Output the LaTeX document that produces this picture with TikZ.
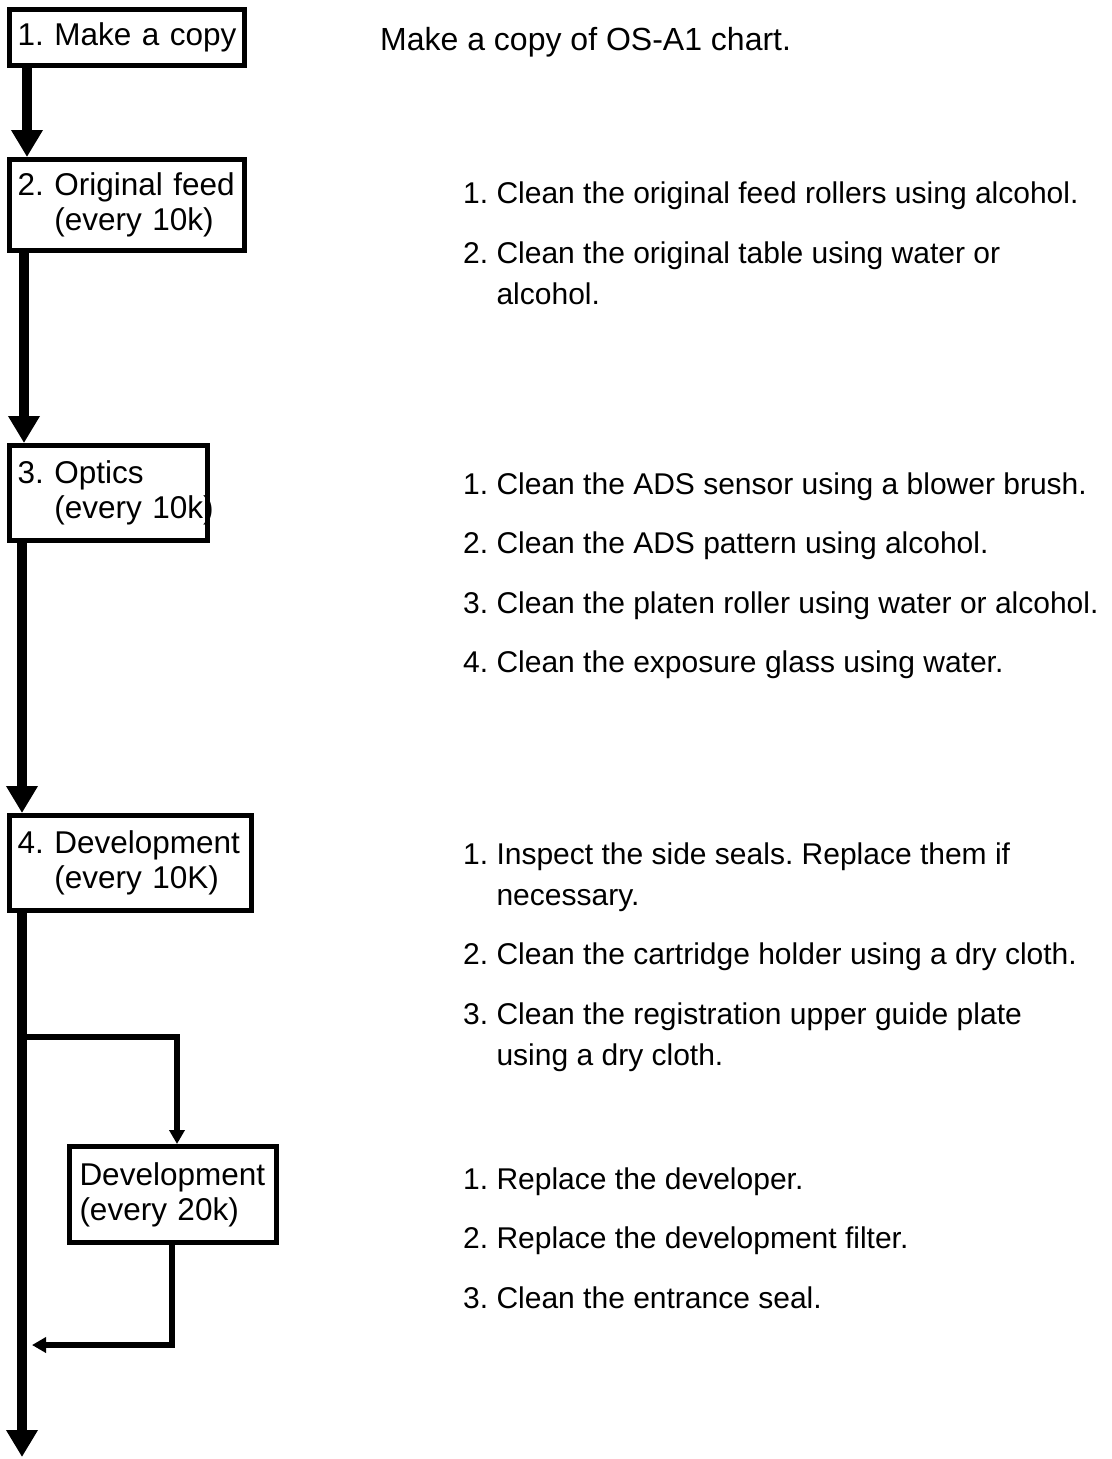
\documentclass[tikz,border=0pt]{standalone}
\usepackage{fontspec}
\setmainfont{Liberation Sans}
\usepackage{tikz}
\usetikzlibrary{positioning,arrows.meta}

\begin{document}
\frenchspacing
\begin{tikzpicture}[
    x=1pt, y=-1pt,
    stepBox/.style={draw, line width=5pt, anchor=north west, align=left, inner xsep=8pt, inner ysep=0pt, font=\fontsize{31.5}{35}\selectfont},
    noteText/.style={anchor=north west, inner sep=0pt, align=left, font=\fontsize{30}{41}\selectfont, execute at begin node=\strut, execute at end node=\strut},
    mainArrow/.style={-{Triangle[width=30pt,length=27pt]}, line width=10pt},
    subArrow/.style={-{Triangle[width=15pt,length=14pt]}, line width=5.5pt}
]
    \useasboundingbox (0,0) rectangle (1111,1459);

    % Schritte links
    \node[stepBox, text width=219pt, minimum height=56pt] (copyBox) at (7,7) {1. Make a copy};
    \node[stepBox, text width=219pt, minimum height=91pt] (feedBox) at (7,157) {2. Original feed\\\phantom{2. }(every~10k)};
    \node[stepBox, text width=182pt, minimum height=95pt] (opticsBox) at (7,443) {3. Optics\\\phantom{3. }(every~10k)};
    \node[stepBox, text width=226pt, minimum height=95pt] (devBox) at (7,813) {4. Development\\\phantom{4. }(every~10K)};
    \node[stepBox, inner xsep=10pt, text width=187pt, minimum height=96pt] (devtwBox) at (67,1144) {Development\\(every~20k)};

    \coordinate (mainEnd) at (22,1457);
    \coordinate (split) at (22,1037);
    \coordinate (join) at (32,1345);

    \draw[mainArrow] ([xshift=20pt]copyBox.south west) -- ([xshift=20pt]feedBox.north west);
    \draw[mainArrow] ([xshift=17pt]feedBox.south west) -- ([xshift=17pt]opticsBox.north west);
    \draw[mainArrow] ([xshift=15pt]opticsBox.south west) -- ([xshift=15pt]devBox.north west);
    \draw[mainArrow] ([xshift=15pt]devBox.south west) -- (mainEnd);

    % Nebenzweig (every 20k)
    \draw[subArrow] (split) -| ([xshift=4pt]devtwBox.north);
    \draw[subArrow] ([xshift=-1pt]devtwBox.south) |- (join);

    % Hinweise rechts
    \node[noteText, font=\fontsize{32}{41}\selectfont] (copyNote) at (380,21.3) {Make a copy of OS-A1 chart.};

    \node[noteText] (feedA) at (463,175) {1. Clean the original feed rollers using alcohol.};
    \node[noteText, below=18pt of feedA.south west, anchor=north west] (feedB) {\strut 2. Clean the original table using water or\\\phantom{2. }alcohol.};

    \node[noteText] (optA) at (463,465.3) {1. Clean the ADS sensor using a blower brush.};
    \node[noteText, below=18pt of optA.south west, anchor=north west] (optB) {2. Clean the ADS pattern using alcohol.};
    \node[noteText, below=18pt of optB.south west, anchor=north west] (optC) {3. Clean the platen roller using water or alcohol.};
    \node[noteText, below=18pt of optC.south west, anchor=north west] (optD) {4. Clean the exposure glass using water.};

    \node[noteText] (devA) at (463,835.3) {\strut 1. Inspect the side seals. Replace them if\\\phantom{1. }necessary.};
    \node[noteText, below=18pt of devA.south west, anchor=north west] (devB) {2. Clean the cartridge holder using a dry cloth.};
    \node[noteText, below=18pt of devB.south west, anchor=north west] (devC) {\strut 3. Clean the registration upper guide plate\\\phantom{3. }using a dry cloth.};

    \node[noteText] (devtwA) at (463,1160.3) {1. Replace the developer.};
    \node[noteText, below=18pt of devtwA.south west, anchor=north west] (devtwB) {2. Replace the development filter.};
    \node[noteText, below=18pt of devtwB.south west, anchor=north west] (devtwC) {3. Clean the entrance seal.};
\end{tikzpicture}
\end{document}
